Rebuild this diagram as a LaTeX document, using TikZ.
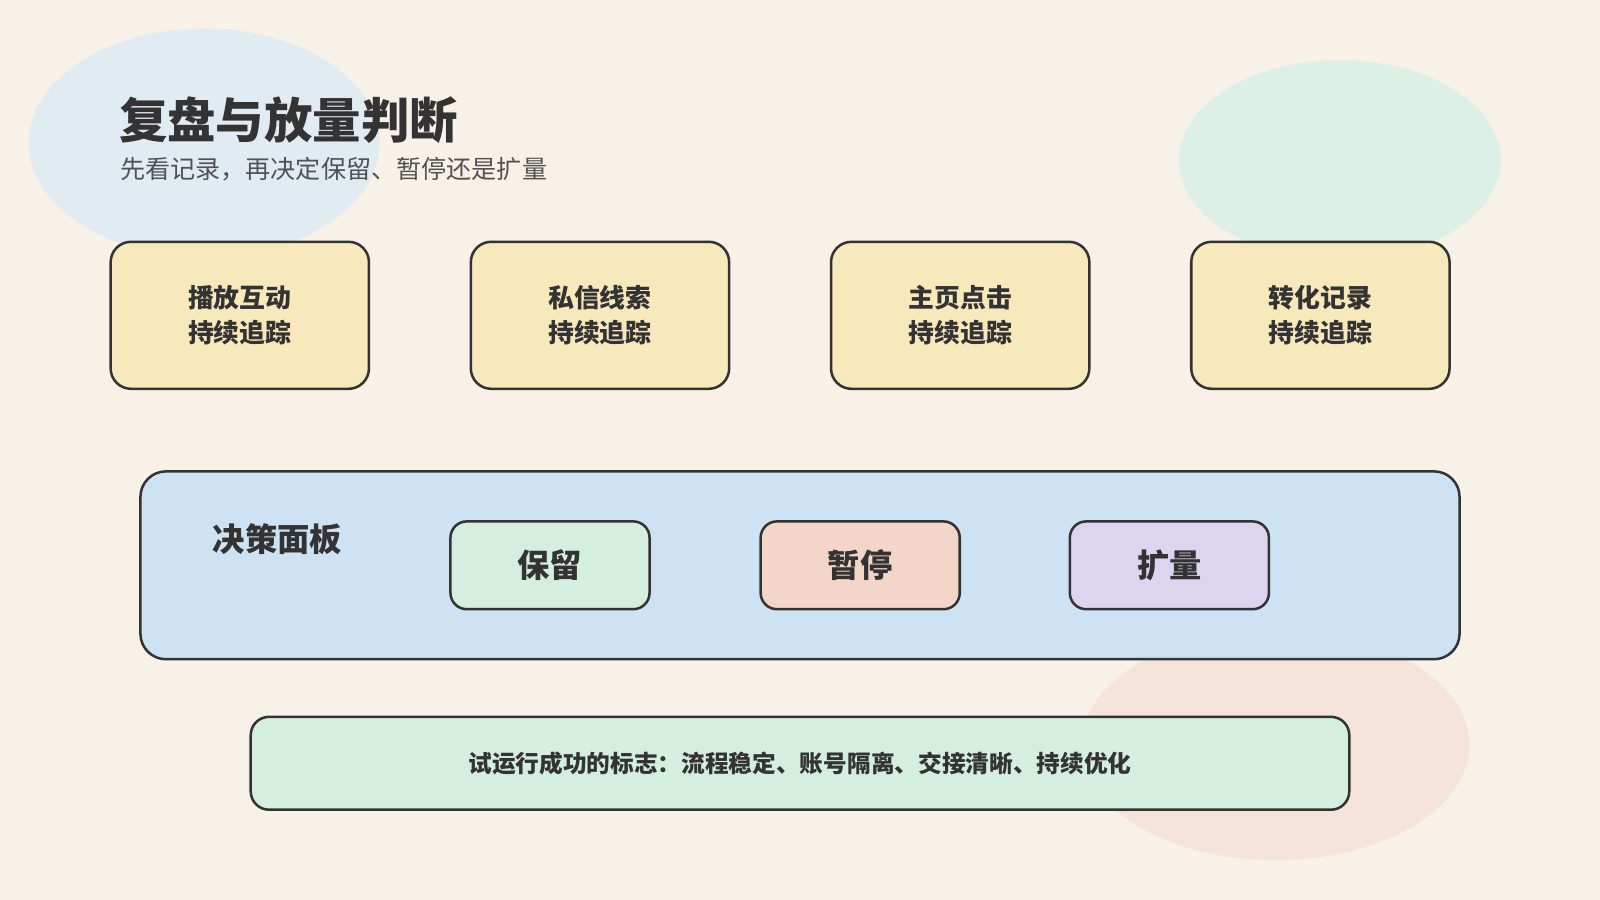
\documentclass[tikz,border=0pt]{standalone}
\usepackage{fontspec}
\setmainfont{Noto Sans CJK SC}
\usetikzlibrary{positioning}
\definecolor{bgcream}{HTML}{F8F1E8}
\definecolor{blobblue}{HTML}{E1EBF2}
\definecolor{blobgreen}{HTML}{DDF0E6}
\definecolor{blobpink}{HTML}{F6E3DC}
\definecolor{cardyellow}{HTML}{F7E9BC}
\definecolor{panelblue}{HTML}{CDE2F2}
\definecolor{keepgreen}{HTML}{D4EEDF}
\definecolor{pauseorange}{HTML}{F4D6C8}
\definecolor{scalepurple}{HTML}{DDD5F0}
\definecolor{inkdark}{HTML}{333333}
\begin{document}
\begin{tikzpicture}[x=0.01cm,y=-0.01cm,
  metric/.style={rectangle, rounded corners=0.2cm, draw=inkdark, line width=0.7pt, fill=cardyellow,
    minimum width=2.53cm, minimum height=1.44cm, align=center, font=\bfseries\fontsize{7.2}{9.6}\selectfont, text=inkdark},
  choice/.style={rectangle, rounded corners=0.16cm, draw=inkdark, line width=0.7pt,
    minimum width=1.95cm, minimum height=0.86cm, font=\bfseries\fontsize{9}{11}\selectfont, text=inkdark}]
    \fill[bgcream] (0,0) rectangle (1568,882);
    \useasboundingbox (0,0) rectangle (1568,882);
    \fill[blobblue] (200,140) ellipse [x radius=172, y radius=112];
    \fill[blobgreen] (1313,157) ellipse [x radius=158, y radius=98];
    \fill[blobpink] (1250,730) ellipse [x radius=190, y radius=113];

    \node[anchor=west, inner sep=0, text=inkdark, font=\bfseries\fontsize{13.5}{16}\selectfont] (title) at (116,118) {复盘与放量判断};
    \node[anchor=west, inner sep=0, text=inkdark!85, font=\fontsize{7}{9}\selectfont] (subtitle) at (117,166) {先看记录，再决定保留、暂停还是扩量};

    \node[metric] (m1) at (235,309) {播放互动\\持续追踪};
    \node[metric] (m2) at (588,309) {私信线索\\持续追踪};
    \node[metric] (m3) at (941,309) {主页点击\\持续追踪};
    \node[metric] (m4) at (1294,309) {转化记录\\持续追踪};

    \node[rectangle, rounded corners=0.25cm, draw=inkdark, line width=0.7pt, fill=panelblue,
      minimum width=12.92cm, minimum height=1.84cm] (panel) at (784,554) {};
    \node[text=inkdark, font=\bfseries\fontsize{9}{11}\selectfont] (paneltitle) at (272,528) {决策面板};
    \node[choice, fill=keepgreen] (keep) at (539,554) {\raisebox{-0.5ex}{保留}};
    \node[choice, fill=pauseorange] (pause) at (843,554) {\raisebox{-0.5ex}{暂停}};
    \node[choice, fill=scalepurple] (scale) at (1146,554) {\raisebox{-0.5ex}{扩量}};

    \node[rectangle, rounded corners=0.18cm, draw=inkdark, line width=0.7pt, fill=keepgreen,
      minimum width=10.76cm, minimum height=0.91cm, text=inkdark, font=\bfseries\fontsize{6.6}{8}\selectfont] (summary) at (784,748)
      {试运行成功的标志：流程稳定、账号隔离、交接清晰、持续优化};
\end{tikzpicture}
\end{document}
